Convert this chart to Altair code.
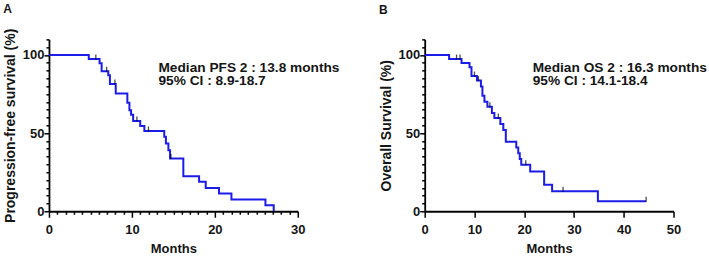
import altair as alt
import pandas as pd

# ---------------- Panel A : PFS 2 ----------------
pfs_time = [0, 4.8, 6.1, 6.35, 7.15, 7.35, 8.05, 9.45, 9.7, 9.9, 10.15, 11.0, 11.5,
            13.9, 14.1, 14.4, 14.6, 16.2, 18.1, 18.9, 20.5, 22.0, 26.1, 27.1]
pfs_surv = [100, 97.4, 94.7, 89.6, 87.0, 81.5, 75.4, 69.4, 64.7, 61.7, 57.8, 54.6, 51.4,
            47.6, 43.4, 39.0, 33.8, 22.4, 18.8, 14.9, 11.3, 7.5, 3.8, 0]
pfs_cens_time = [5.65, 6.95, 7.95, 10.6, 12.0, 14.7]
pfs_cens_surv = [97.4, 89.6, 81.5, 57.8, 51.4, 33.8]
pfs_note = "Median PFS 2 : 13.8 months\n95% CI : 8.9-18.7"
pfs_note_pos = [13.2, 89.3]

# ---------------- Panel B : OS 2 ----------------
os_time = [0, 4.9, 7.4, 9.0, 9.4, 10.5, 11.3, 11.6, 12.0, 12.6, 13.5, 14.0, 15.2, 15.8,
           16.3, 18.4, 18.8, 19.1, 19.4, 21.2, 24.0, 25.6, 34.8, 44.5]
os_surv = [100, 97.4, 94.9, 92.2, 86.5, 83.6, 79.8, 73.9, 70.0, 66.8, 62.9, 59.6, 55.9, 52.0,
           44.5, 40.8, 37.1, 33.4, 29.7, 25.4, 17.0, 12.8, 6.4, 6.4]
os_cens_time = [6.4, 7.1, 10.0, 10.8, 13.1, 14.8, 20.3, 27.8, 44.5]
os_cens_surv = [97.4, 97.4, 86.5, 83.6, 66.8, 59.6, 29.7, 12.8, 6.4]
os_note = "Median OS 2 : 16.3 months\n95% CI : 14.1-18.4"
os_note_pos = [21.7, 89.3]

FONT = "Liberation Sans"
BLUE = "#1c1ce8"
INK = "#151515"


def panel(times, surv, ctimes, csurv, note, note_pos, xmax, xvals, ytitle, letter, title_offset):
    line_df = pd.DataFrame({"t": times, "s": surv})
    cens_df = pd.DataFrame({"t": ctimes, "s": csurv})
    note_df = pd.DataFrame({"t": [note_pos[0]], "s": [note_pos[1]], "txt": [note]})

    x = alt.X(
        "t:Q",
        scale=alt.Scale(domain=[0, xmax], nice=False, zero=True),
        axis=alt.Axis(
            values=xvals,
            labelExpr="datum.value % 10 === 0 ? datum.label : ''",
            tickSize={"condition": {"test": "datum.value % 10 === 0", "value": 6}, "value": 3},
            labelOverlap=False,
            labelFlush=False,
            labelPadding=6,
            title="Months",
            titlePadding=6,
            titleFontSize=13,
        ),
    )
    y = alt.Y(
        "s:Q",
        scale=alt.Scale(domain=[0, 110], nice=False, zero=True),
        axis=alt.Axis(
            values=list(range(0, 111, 5)),
            labelExpr="datum.value % 50 === 0 ? datum.label : ''",
            tickSize={"condition": {"test": "datum.value % 50 === 0", "value": 5}, "value": 3},
            labelOverlap=False,
            labelFlush=False,
            labelPadding=0,
            title=ytitle,
            titlePadding=5,
            titleFontSize=14,
        ),
    )

    line = alt.Chart(line_df).mark_line(
        interpolate="step-after", color=BLUE, strokeWidth=2
    ).encode(x=x, y=y)
    cens = alt.Chart(cens_df).mark_tick(
        orient="vertical", size=5, thickness=1.3, color="black", yOffset=-2
    ).encode(x=x, y=y)
    text = alt.Chart(note_df).mark_text(
        align="left", baseline="alphabetic", lineBreak="\n", lineHeight=13.5,
        font=FONT, fontSize=13.7, fontWeight="bold", color=INK
    ).encode(x=x, y=y, text="txt:N")

    return alt.layer(line, cens, text).properties(
        width=249,
        height=172,
        title=alt.TitleParams(
            letter, anchor="start", frame="bounds", fontSize=12, font=FONT,
            fontWeight="bold", color=INK, baseline="alphabetic", offset=title_offset
        ),
    )


chart_a = panel(pfs_time, pfs_surv, pfs_cens_time, pfs_cens_surv, pfs_note, pfs_note_pos,
                30, list(range(0, 31)), "Progression-free survival (%)", "A", 3.2)
chart_b = panel(os_time, os_surv, os_cens_time, os_cens_surv, os_note, os_note_pos,
                50, list(range(0, 51, 10)), "Overall Survival (%)", "B", 7.6)

chart = (
    alt.hconcat(chart_a, chart_b, spacing=127, bounds="flush")
    .properties(
        autosize=alt.AutoSizeParams(type="pad"),
        padding={"left": 3, "top": 2.3, "right": 1.5, "bottom": 0},
        background="white",
    )
    .configure_view(stroke=None)
    .configure_axis(
        grid=False,
        domainColor="black",
        domainWidth=1.8,
        tickColor="black",
        tickWidth=1.5,
        labelFont=FONT,
        labelFontWeight="bold",
        labelFontSize=13,
        labelColor=INK,
        titleFont=FONT,
        titleFontWeight="bold",
        titleColor=INK,
    )
)

chart.save("out.html", embed_options={"renderer": "svg", "actions": False})
